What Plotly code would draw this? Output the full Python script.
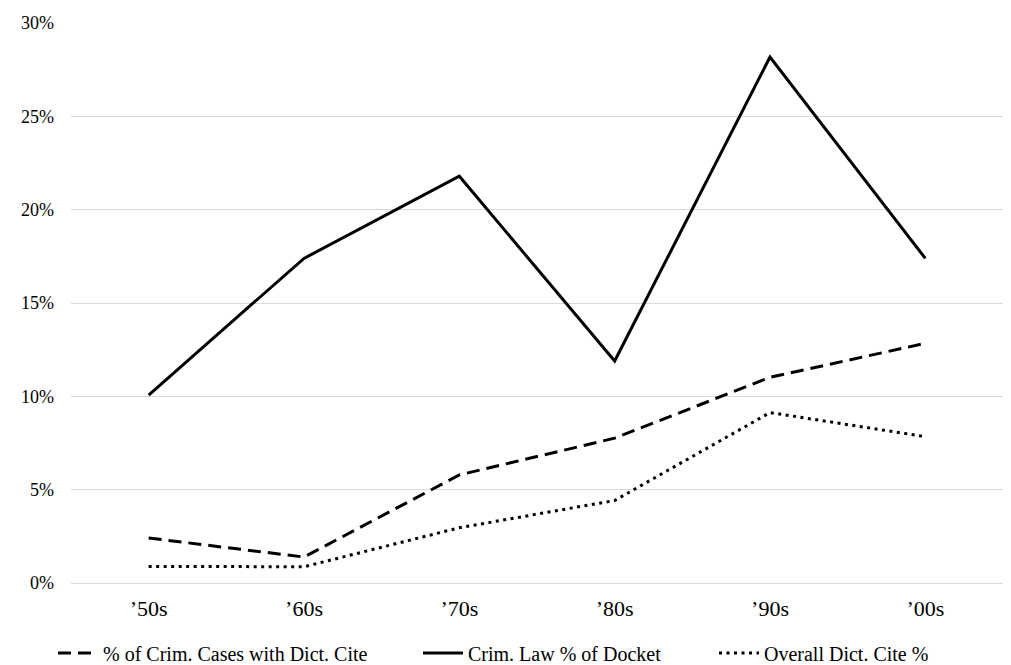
import plotly.graph_objects as go

decades = ["’50s", "’60s", "’70s", "’80s", "’90s", "’00s"]
crim_cases_dict_cite = [2.41, 1.39, 5.79, 7.76, 11.02, 12.84]
crim_law_docket = [10.07, 17.39, 21.79, 11.89, 28.18, 17.39]
overall_dict_cite = [0.89, 0.87, 2.96, 4.42, 9.13, 7.84]
y_ticks = [0, 5, 10, 15, 20, 25, 30]
y_tick_labels = [f"{v}%" for v in y_ticks]

FONT = "Liberation Serif"
GRID = "#d9d9d9"

fig = go.Figure()
fig.add_trace(go.Scatter(
    x=decades, y=crim_cases_dict_cite, mode="lines",
    name="% of Crim. Cases with Dict. Cite",
    line=dict(color="black", width=3, dash="13px,7px"),
    legend="legend",
))
fig.add_trace(go.Scatter(
    x=decades, y=crim_law_docket, mode="lines",
    name="Crim. Law % of Docket",
    line=dict(color="black", width=3),
    legend="legend2",
))
fig.add_trace(go.Scatter(
    x=decades, y=overall_dict_cite, mode="lines",
    name="Overall Dict. Cite %",
    line=dict(color="black", width=3, dash="3px,4.5px"),
    legend="legend3",
))

# page body has an 8px margin, so the figure is sized/positioned accordingly
W, H = 1003, 657
L, R, T, B = 63, 8, 15, 82
pw = W - L - R
ph = H - T - B

def px_to_paper_x(px):
    return (px - L) / pw

def px_to_paper_y(py):
    return (H - B - py) / ph

leg_common = dict(orientation="h", yanchor="middle", xanchor="left",
                  font=dict(family=FONT, size=20, color="black"),
                  itemwidth=40, bgcolor="rgba(0,0,0,0)")

fig.update_layout(
    width=W, height=H,
    margin=dict(l=L, r=R, t=T, b=B, autoexpand=False),
    paper_bgcolor="white", plot_bgcolor="white",
    font=dict(family=FONT, size=18, color="black"),
    showlegend=True,
    legend=dict(x=px_to_paper_x(45), y=px_to_paper_y(645), **leg_common),
    legend2=dict(x=px_to_paper_x(410), y=px_to_paper_y(645), **leg_common),
    legend3=dict(x=px_to_paper_x(706), y=px_to_paper_y(645), **leg_common),
    xaxis=dict(showgrid=False, showline=False, zeroline=False, ticks="",
               tickfont=dict(family=FONT, size=22), range=[-0.5, 5.5],
               automargin=False, ticklabelstandoff=10),
    yaxis=dict(range=[0, 30], tickvals=y_ticks, ticktext=y_tick_labels,
               showgrid=True, gridcolor=GRID, gridwidth=1.3,
               zeroline=True, zerolinecolor=GRID, zerolinewidth=1.3,
               showline=False, ticks="", automargin=False,
               tickfont=dict(family=FONT, size=18), ticklabelstandoff=16),
)

fig.write_html("out.html")
